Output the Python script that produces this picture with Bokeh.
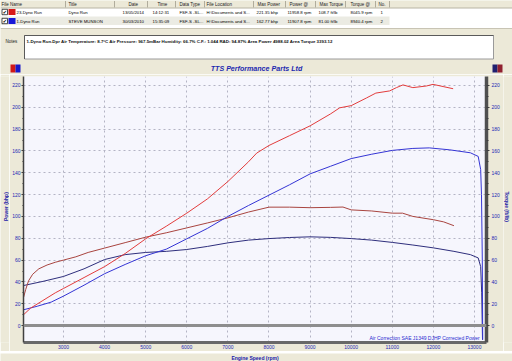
import math
from bokeh.plotting import figure
from bokeh.models import Range1d, LinearAxis, FixedTicker, Span, Label
from bokeh.layouts import column, row
from bokeh.embed import file_html
from bokeh.resources import INLINE
from bokeh.core.properties import value

# ---------------- data ----------------
red_power_rpm = [2030, 2200, 2500, 2800, 3000, 3500, 4000, 4500, 5000, 5500, 6000, 6500, 7000, 7500, 7700,
                 8000, 8500, 9000, 9500, 9720, 10000, 10370, 10600, 10935, 11100, 11260, 11500, 11830,
                 11990, 12235, 12480]
red_power = [10, 16, 23, 30, 34, 44, 54, 66, 79.5, 91, 103, 116, 132, 150, 158,
             165, 174, 183, 194, 199.5, 201.5, 208.5, 213, 215, 218, 220.5, 218, 219.5,
             221, 219, 217]

red_torque_rpm = [2030, 2080, 2150, 2250, 2400, 2600, 2800, 3000, 3300, 3600, 4000, 4500, 5000, 5500,
                  6000, 6500, 7000, 7500, 8000, 8500, 9000, 9500, 9800, 10000, 10500, 11000, 11250,
                  11500, 12000, 12250, 12500]
red_torque = [26, 33, 41, 47, 52, 55.5, 58, 60, 63, 67, 71, 76, 81, 85,
              89.5, 94, 98.7, 104, 108.5, 108.5, 108, 108.3, 108.6, 106, 105, 103, 103,
              100, 97, 95, 91.5]

blue_power_rpm = [2030, 2360, 2700, 3000, 3500, 4000, 4500, 5000, 5500, 6000, 6500, 7000, 7500, 8000,
                  8500, 9000, 9500, 10000, 10500, 11000, 11500, 11900, 12400, 12900, 13090, 13150,
                  13170, 13190, 13200]
blue_power = [14.5, 17.7, 21.5, 27, 37, 47.5, 56, 64, 70, 79.5, 89, 100, 110, 119.5,
              129, 139, 146, 153, 157, 160.5, 162.3, 162.8, 161, 158.3, 155, 143,
              120, 60, -13]

blue_torque_rpm = [2030, 2500, 3000, 3500, 4000, 4500, 5000, 5500, 6000, 6500, 7000, 7500, 8000, 8500,
                   9000, 9500, 10000, 10500, 11000, 11500, 12000, 12500, 12900, 13090, 13150, 13175,
                   13195]
blue_torque = [36.7, 40.5, 45, 52, 60.5, 65, 67, 68, 69.7, 72.5, 75.8, 78.3, 79.7, 80.7,
               81.3, 80.8, 79.7, 78.3, 76.2, 73.8, 71.2, 68, 65, 62, 54, 30,
               -13]

x_ticks = [3000, 4000, 5000, 6000, 7000, 8000, 9000, 10000, 11000, 12000, 13000]
y_ticks = [0, 20, 40, 60, 80, 100, 120, 140, 160, 180, 200, 220]

table_headers = ["File Name", "Title", "Date", "Time", "Data Type", "File Location",
                 "Max Power", "Power @", "Max Torque", "Torque @", "No."]
row1 = ["23-Dyno Run", "Dyno Run", "13/05/2014", "14:12:31", "FSF-S -SL...", "H:\\Documents and S...",
        "221.35 bhp", "11958.8 rpm", "108.7 ft/lb", "8045.9 rpm", "1"]
row2 = ["1-Dyno Run", "STEVE MUNSON", "30/03/2010", "15:35:09", "FSF-S -SL...", "H:\\Documents and S...",
        "162.77 bhp", "11907.8 rpm", "81.00 ft/lb", "8940.4 rpm", "2"]
notes_text = ("1-Dyno Run.Dpr   Air Temperature: 8.7\u00b0C   Air Pressure: 967.5mBar   Humidity: 66.7%   "
              "C.F.: 1.044   RAD: 94.87%   Area Power 4988.02   Area Torque 3393.12")

# ---------------- styling ----------------
BEIGE = "#ece9d8"
W = 512
FONT = value("Liberation Sans")
BLUE_TXT = "#2428b4"
TITLE_BLUE = "#2020a8"


def blank(width, height, xr, yr):
    return figure(width=width, height=height, x_range=xr, y_range=yr,
                  output_backend="svg", toolbar_location=None, x_axis_type=None, y_axis_type=None,
                  min_border=0, background_fill_color=BEIGE, border_fill_color=BEIGE,
                  outline_line_color=None)


# ---------------- top panel (table / notes / title) ----------------
TH = 74
top = blank(W, TH, Range1d(0, W), Range1d(TH, 0))

top.quad(left=[0], right=[512], top=[0], bottom=[28], fill_color="white", line_color=None)
top.quad(left=[0], right=[512], top=[0], bottom=[7.5], fill_color=BEIGE, line_color=None)
top.quad(left=[0], right=[389], top=[16], bottom=[24.5], fill_color="#ebebe3", line_color=None)
top.segment(x0=[0], y0=[7.5], x1=[512], y1=[7.5], line_color="#b8b4a4", line_width=1)
top.segment(x0=[0], y0=[28], x1=[512], y1=[28], line_color="#c8c4b4", line_width=1)

col_x = [1, 68, 128, 157, 179, 206, 257, 289, 319, 350, 378]
col_x_rows = [16, 68, 122, 152, 179, 206, 256, 287, 318, 350, 380]
sep_x = [65, 114, 147, 175, 204, 253, 285, 315, 345, 375, 389]
top.segment(x0=sep_x, y0=[0.5] * len(sep_x), x1=sep_x, y1=[7] * len(sep_x),
            line_color="#b0ac9c", line_width=1)

top.text(x=col_x, y=[4] * len(col_x), text=table_headers, text_font=FONT, text_font_size="4.5px",
         text_baseline="middle", text_color="#202020")
top.text(x=col_x_rows, y=[11.5] * len(row1), text=row1, text_font=FONT, text_font_size="4.3px",
         text_baseline="middle", text_color="#000000")
top.text(x=col_x_rows, y=[20.5] * len(row2), text=row2, text_font=FONT, text_font_size="4.3px",
         text_baseline="middle", text_color="#000000")

top.quad(left=[1.5, 1.5], right=[7, 7], top=[8.8, 17.8], bottom=[14.2, 23.2],
         fill_color="white", line_color="#202020", line_width=0.8)
top.text(x=[4.3, 4.3], y=[11.6, 20.6], text=["\u2714", "\u2714"], text_font=value("DejaVu Sans"),
         text_font_size="5px", text_align="center", text_baseline="middle", text_color="#000000")
top.quad(left=[8, 8], right=[15, 15], top=[8.5, 17.5], bottom=[14.5, 23.5],
         fill_color=["#d81818", "#1818d8"], line_color=None)

top.text(x=[5], y=[41], text=["Notes"], text_font=FONT, text_font_size="4.5px",
         text_baseline="middle", text_color="#202020")
top.quad(left=[24], right=[493], top=[35], bottom=[58.5], fill_color="white",
         line_color="#9a9a9a", line_width=1)
top.segment(x0=[24, 24], y0=[35, 35], x1=[493, 24], y1=[35, 58.5], line_color="#5a5a5a", line_width=1)
top.text(x=[26], y=[41], text=[notes_text], text_font=FONT, text_font_size="4.4px",
         text_font_style="bold", text_baseline="middle", text_color="#101010")

top.quad(left=[10, 15, 492, 497], right=[15, 20, 497, 502], top=[64, 64, 64, 64],
         bottom=[72, 72, 72, 72], fill_color=["#d01818", "#1818c8", "#202070", "#902030"],
         line_color=None)

top.text(x=[256], y=[68.3], text=["TTS Performance Parts Ltd"], text_font=FONT,
         text_font_size="7.1px", text_font_style="bold italic", text_align="center",
         text_baseline="middle", text_color="#1c28b0")

# ---------------- chart ----------------
X0, X1 = 2027, 13292
PH = 277
LW, RW = 9, 9
BT, BB, BL, BR = 2, 8, 14, 17
p = figure(width=W - LW - RW, height=PH, x_range=Range1d(X0, X1), y_range=Range1d(-15.5, 228.2),
           output_backend="svg", toolbar_location=None, background_fill_color="#f6f6fd",
           border_fill_color=BEIGE, outline_line_color=None,
           min_border_left=BL, min_border_right=BR, min_border_top=BT, min_border_bottom=BB)

p.xaxis.ticker = FixedTicker(ticks=x_ticks, minor_ticks=[])
p.yaxis.ticker = FixedTicker(ticks=y_ticks, minor_ticks=[v + 10 for v in y_ticks])
p.xgrid.ticker = FixedTicker(ticks=x_ticks)
p.ygrid.ticker = FixedTicker(ticks=y_ticks)
p.grid.grid_line_color = "#b4b4c4"
p.grid.grid_line_dash = "2 3"
p.grid.grid_line_width = 1

right = LinearAxis(ticker=FixedTicker(ticks=y_ticks, minor_ticks=[v + 10 for v in y_ticks]))
p.add_layout(right, "right")

for ax in p.axis:
    ax.major_label_text_font = "Liberation Sans"
    ax.major_label_text_font_size = "5px"
    ax.major_label_text_color = BLUE_TXT
    ax.major_tick_line_color = "#404040"
    ax.minor_tick_line_color = "#404040"
    ax.major_tick_in = 0
    ax.minor_tick_in = 0
    ax.major_label_standoff = 1

p.xaxis.major_tick_out = 0
p.xaxis.minor_tick_out = 0
p.xaxis.major_label_standoff = 2
p.xaxis.axis_line_color = "#686868"
p.xaxis.axis_line_width = 3
p.yaxis[0].major_tick_out = 2
p.yaxis[0].minor_tick_out = 1
p.yaxis[0].axis_line_color = "#404040"
p.yaxis[0].axis_line_width = 1.5
right.major_tick_out = 3
right.minor_tick_out = 2
right.axis_line_color = "#505050"
right.axis_line_width = 3.5
right.major_label_standoff = 2

zero = Span(location=0, dimension="width", line_color="#8e8e8e", line_width=3)
p.add_layout(zero)

p.line(blue_torque_rpm, blue_torque, line_color="#2e2e7c", line_width=1)
p.line(red_torque_rpm, red_torque, line_color="#a8443f", line_width=1)
p.line(blue_power_rpm, blue_power, line_color="#3434d4", line_width=1)
p.line(red_power_rpm, red_power, line_color="#e23c3c", line_width=1)

p.add_layout(Label(x=13265, y=-11, text="Air Correction SAE J1349     DJHP Corrected Power",
                   text_font="Liberation Sans", text_font_size="5px", text_color="#2a2ad0",
                   text_align="right", text_baseline="middle"))

# ---------------- axis titles (narrow side panels) ----------------
frame_mid = (BT + (PH - BB)) / 2
left_fig = blank(LW, PH, Range1d(0, LW), Range1d(PH, 0))
left_fig.text(x=[5.5], y=[frame_mid], text=["Power (bhp)"], angle=math.pi / 2, text_font=FONT,
              text_font_size="5px", text_font_style="bold", text_color=TITLE_BLUE,
              text_align="center", text_baseline="middle")

right_fig = blank(RW, PH, Range1d(0, RW), Range1d(PH, 0))
right_fig.text(x=[3.5], y=[frame_mid], text=["Torque (ft/lb)"], angle=-math.pi / 2, text_font=FONT,
               text_font_size="5px", text_font_style="bold", text_color=TITLE_BLUE,
               text_align="center", text_baseline="middle")

BH = 361 - TH - PH
bottom_fig = blank(W, BH, Range1d(0, W), Range1d(BH, 0))
bottom_fig.text(x=[LW + BL + (W - LW - RW - BL - BR) / 2], y=[4], text=["Engine Speed (rpm)"],
                text_font=FONT, text_font_size="5px", text_font_style="bold",
                text_color=TITLE_BLUE, text_align="center", text_baseline="middle")

layout = column(top, row(left_fig, p, right_fig, spacing=0), bottom_fig, spacing=0)
open("out.html", "w").write(file_html(layout, INLINE))
